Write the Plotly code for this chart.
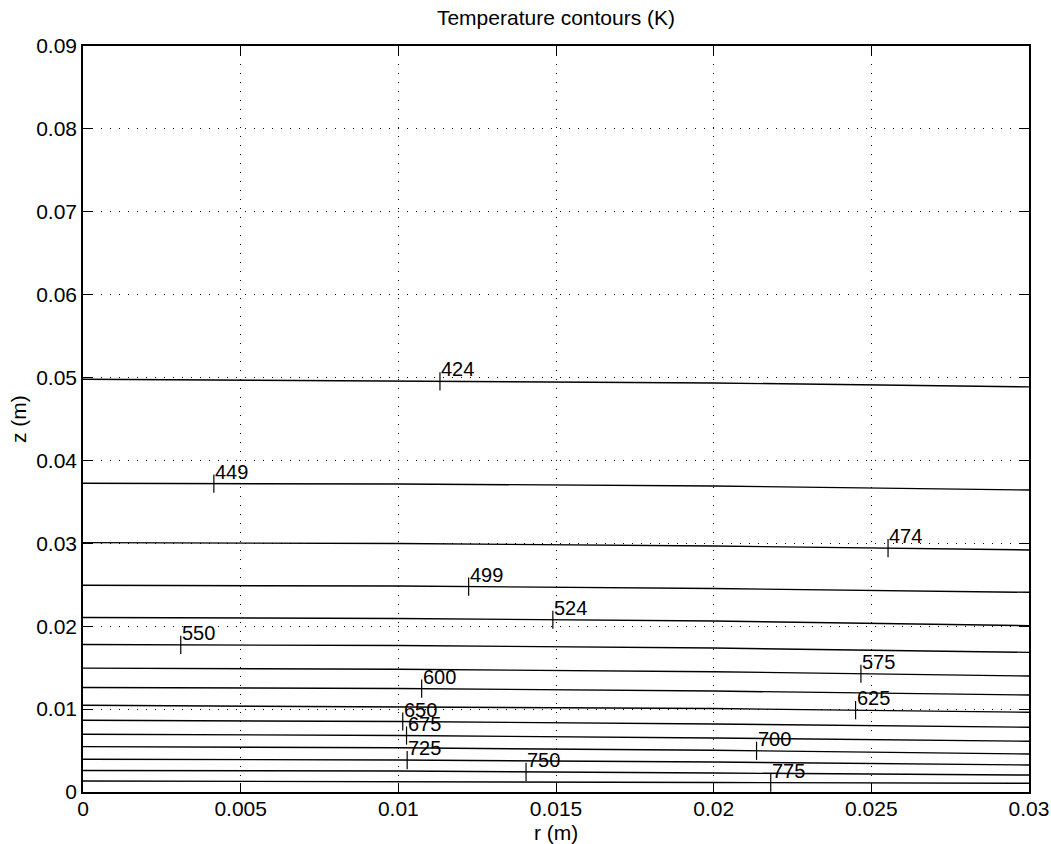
import numpy as np
import plotly.graph_objects as go

# ---- data ----
r_pts = [0.0, 0.01, 0.02, 0.03]          # radial sample positions (m)
levels = [424, 449, 474, 499, 524, 550, 575, 600, 625, 650, 675, 700, 725, 750, 775]
z_424 = [0.04979, 0.04956, 0.04935, 0.04887]
z_449 = [0.03724, 0.03716, 0.03692, 0.03643]
z_474 = [0.03008, 0.02998, 0.02968, 0.02920]
z_499 = [0.02494, 0.02485, 0.02455, 0.02409]
z_524 = [0.02105, 0.02093, 0.02063, 0.02006]
z_550 = [0.01779, 0.01767, 0.01737, 0.01685]
z_575 = [0.01494, 0.01481, 0.01451, 0.01399]
z_600 = [0.01261, 0.01249, 0.01218, 0.01170]
z_625 = [0.01046, 0.01031, 0.01007, 0.00962]
z_650 = [0.00865, 0.00851, 0.00820, 0.00781]
z_675 = [0.00697, 0.00682, 0.00651, 0.00612]
z_700 = [0.00547, 0.00533, 0.00503, 0.00458]
z_725 = [0.00396, 0.00386, 0.00362, 0.00326]
z_750 = [0.00259, 0.00253, 0.00229, 0.00205]
z_775 = [0.00133, 0.00127, 0.00115, 0.00105]
# r position of each contour label
label_r = [0.01132, 0.00415, 0.02553, 0.01223, 0.0149, 0.0031, 0.02467, 0.01074,
           0.0245, 0.01014, 0.01026, 0.02136, 0.01028, 0.01405, 0.02181]

x_ticks = [0, 0.005, 0.01, 0.015, 0.02, 0.025, 0.03]
x_ticktext = ["0", "0.005", "0.01", "0.015", "0.02", "0.025", "0.03"]
y_ticks = [0, 0.01, 0.02, 0.03, 0.04, 0.05, 0.06, 0.07, 0.08, 0.09]
y_ticktext = ["0", "0.01", "0.02", "0.03", "0.04", "0.05", "0.06", "0.07", "0.08", "0.09"]

title_text = "Temperature contours (K)"
x_title = "r (m)"
y_title = "z (m)"

contours = [z_424, z_449, z_474, z_499, z_524, z_550, z_575, z_600, z_625,
            z_650, z_675, z_700, z_725, z_750, z_775]

FONT = "Liberation Sans, Arial, Helvetica, sans-serif"
FS = 21

fig = go.Figure()
for lev, zs in zip(levels, contours):
    fig.add_trace(go.Scatter(x=r_pts, y=zs, mode="lines",
                             line=dict(color="black", width=1.4),
                             showlegend=False, hoverinfo="skip"))

lab_x, lab_y = [], []
annotations = []
for lev, zs, rl in zip(levels, contours, label_r):
    zl = float(np.interp(rl, r_pts, zs))
    lab_x.append(rl)
    lab_y.append(zl)
    annotations.append(dict(x=rl, y=zl, xref="x", yref="y", text=str(lev),
                            showarrow=False, xanchor="left", yanchor="bottom",
                            font=dict(family=FONT, size=20, color="black"),
                            xshift=0, yshift=0, borderpad=0))

fig.add_trace(go.Scatter(x=lab_x, y=lab_y, mode="markers",
                         marker=dict(symbol="line-ns-open", size=13, color="black",
                                     line=dict(color="black", width=1.2)),
                         showlegend=False, hoverinfo="skip"))

annotations.append(dict(x=0.5, y=-(832 - 792) / 746, xref="paper", yref="paper",
                        text=x_title, showarrow=False, xanchor="center", yanchor="middle",
                        font=dict(family=FONT, size=FS, color="black")))
annotations.append(dict(x=-(83 - 18) / 946, y=0.5, xref="paper", yref="paper",
                        text=y_title, showarrow=False, xanchor="center", yanchor="middle",
                        textangle=-90,
                        font=dict(family=FONT, size=FS, color="black")))

axis_common = dict(
    showline=True, linecolor="black", linewidth=1.5, mirror="ticks",
    ticks="inside", ticklen=9, tickwidth=1, tickcolor="black",
    showgrid=True, gridcolor="black", gridwidth=1, griddash="1px,8px",
    zeroline=False, automargin=False,
    tickfont=dict(family=FONT, size=FS, color="black"),
)

fig.update_layout(
    width=1051, height=844,
    margin=dict(l=83, r=22, t=46, b=52),
    paper_bgcolor="white", plot_bgcolor="white",
    title=dict(text=title_text, x=556 / 1051, xanchor="center",
               y=1 - 18 / 844, yanchor="middle", yref="container",
               font=dict(family=FONT, size=FS, color="black")),
    xaxis=dict(range=[0, 0.03], tickvals=x_ticks, ticktext=x_ticktext,
               ticklabelstandoff=-3, **axis_common),
    yaxis=dict(range=[0, 0.09], tickvals=y_ticks, ticktext=y_ticktext,
               ticklabelstandoff=0, **axis_common),
    annotations=annotations,
)

fig.write_html("out.html")
